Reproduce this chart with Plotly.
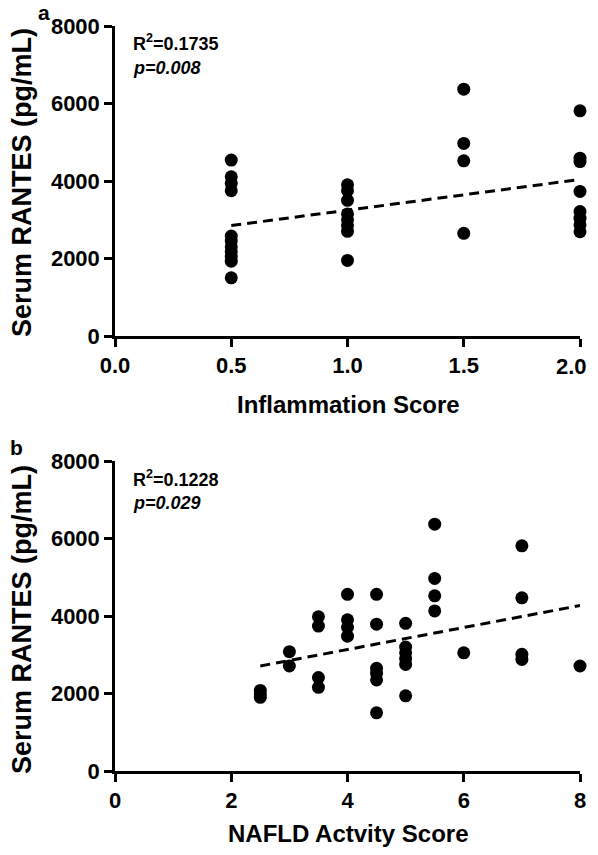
import plotly.graph_objects as go

# ---------------- data ----------------
a_inflammation_score = [0.5, 0.5, 0.5, 0.5, 0.5, 0.5, 0.5, 0.5, 0.5, 0.5, 0.5,
                        1.0, 1.0, 1.0, 1.0, 1.0, 1.0, 1.0, 1.0,
                        1.5, 1.5, 1.5, 1.5,
                        2.0, 2.0, 2.0, 2.0, 2.0, 2.0, 2.0, 2.0]
a_rantes = [4540, 4110, 3940, 3750, 2580, 2450, 2300, 2180, 2050, 1930, 1500,
            3900, 3750, 3500, 3150, 3000, 2850, 2700, 1950,
            6370, 4970, 4520, 2650,
            5810, 4590, 4500, 3730, 3210, 3040, 2870, 2690]
a_fit_x = [0.5, 2.0]
a_fit_y = [2850, 4040]

b_nas = [2.5, 2.5, 2.5,
         3, 3,
         3.5, 3.5, 3.5, 3.5,
         4, 4, 4, 4,
         4.5, 4.5, 4.5, 4.5, 4.5, 4.5,
         5, 5, 5, 5, 5, 5,
         5.5, 5.5, 5.5, 5.5,
         6,
         7, 7, 7, 7,
         8]
b_rantes = [2080, 1990, 1900,
            3080, 2710,
            3980, 3740, 2410, 2160,
            4560, 3900, 3710, 3480,
            4560, 3790, 2650, 2520, 2350, 1500,
            3810, 3200, 3050, 2900, 2750, 1940,
            6370, 4970, 4520, 4130,
            3050,
            5810, 4470, 3010, 2880,
            2710]
b_fit_x = [2.5, 8.0]
b_fit_y = [2710, 4270]

a_xticks = [0.0, 0.5, 1.0, 1.5, 2.0]
a_xticklabels = ["0.0", "0.5", "1.0", "1.5", "2.0"]
b_xticks = [0, 2, 4, 6, 8]
y_ticks = [0, 2000, 4000, 6000, 8000]

a_stats = ["R<sup>2</sup>=0.1735", "<i>p=0.008</i>"]
b_stats = ["R<sup>2</sup>=0.1228", "<i>p=0.029</i>"]

# ---------------- geometry ----------------
# the page body has an 8px margin: page positions are shifted by 8px
OFF = 8
W, H = 598 - OFF, 855 - 2 * OFF
FONT = "Liberation Sans, Arial, sans-serif"
VISIBLE_RIGHT = 590  # page x beyond which the page is not captured


def px_x(v):
    return (v - OFF) / W


def px_y(v):
    return 1 - (v - OFF) / H


fig = go.Figure()

marker = dict(color="black", size=13, line=dict(width=0))
fig.add_trace(go.Scatter(x=a_inflammation_score, y=a_rantes, mode="markers",
                         marker=marker, cliponaxis=False, xaxis="x", yaxis="y",
                         showlegend=False))
fig.add_trace(go.Scatter(x=a_fit_x, y=a_fit_y, mode="lines",
                         line=dict(color="black", width=3, dash="10px,6px"),
                         cliponaxis=False, xaxis="x", yaxis="y", showlegend=False))
fig.add_trace(go.Scatter(x=b_nas, y=b_rantes, mode="markers",
                         marker=marker, cliponaxis=False, xaxis="x2", yaxis="y2",
                         showlegend=False))
fig.add_trace(go.Scatter(x=b_fit_x, y=b_fit_y, mode="lines",
                         line=dict(color="black", width=3, dash="10px,6px"),
                         cliponaxis=False, xaxis="x2", yaxis="y2", showlegend=False))

tickfont = dict(family=FONT, size=22, color="black", weight="bold")
axis_common = dict(showline=True, linecolor="black", linewidth=2.5,
                   ticks="outside", ticklen=8, tickwidth=2.5, tickcolor="black",
                   showgrid=False, zeroline=False, tickfont=tickfont,
                   ticklabeloverflow="allow")

# last x label of panel a sits at the right edge; it is drawn as an annotation
# pulled just inside the visible page
a_ticktext = a_xticklabels[:-1] + [""]

xdom = [px_x(115), px_x(580)]
fig.update_layout(
    width=W, height=H,
    margin=dict(l=0, r=0, t=0, b=0, autoexpand=False),
    paper_bgcolor="white", plot_bgcolor="white",
    font=dict(family=FONT, color="black"),
    xaxis=dict(domain=xdom, range=[0, 2], tickvals=a_xticks, ticktext=a_ticktext,
               anchor="y", **axis_common),
    yaxis=dict(domain=[px_y(336), px_y(26)], range=[0, 8000], tickvals=y_ticks,
               anchor="x", **axis_common),
    xaxis2=dict(domain=xdom, range=[0, 8], tickvals=b_xticks,
                anchor="y2", **axis_common),
    yaxis2=dict(domain=[px_y(771), px_y(461)], range=[0, 8000], tickvals=y_ticks,
                anchor="x2", **axis_common),
)


def text_ann(text, cx, cy, size, angle=0, xanchor="center"):
    return dict(text=text, x=px_x(cx), y=px_y(cy), xref="paper", yref="paper",
                xanchor=xanchor, yanchor="middle", textangle=angle,
                showarrow=False, font=dict(family=FONT, size=size, color="black"))


ann = []
# panel letters
ann.append(text_ann("<b>a</b>", 44, 13, 21))
ann.append(text_ann("<b>b</b>", 16, 447, 21))
# axis titles
ann.append(text_ann("<b>Serum RANTES (pg/mL)</b>", 22, 183, 27, angle=-90))
ann.append(text_ann("<b>Serum RANTES (pg/mL)</b>", 22, 620, 27, angle=-90))
ann.append(text_ann("<b>Inflammation Score</b>", 348, 405, 24))
ann.append(text_ann("<b>NAFLD Actvity Score</b>", 348, 833, 24))
# last tick label of panel a
ann.append(text_ann("<b>" + a_xticklabels[-1] + "</b>", VISIBLE_RIGHT - 1, 366, 22,
                    xanchor="right"))
# stats
for stats, y0 in [(a_stats, 26), (b_stats, 461)]:
    ann.append(text_ann("<b>" + stats[0] + "</b>", 131, y0 + 17, 18, xanchor="left"))
    ann.append(text_ann("<b>" + stats[1] + "</b>", 131, y0 + 42, 18, xanchor="left"))
fig.update_layout(annotations=ann)

fig.write_html("out.html")
